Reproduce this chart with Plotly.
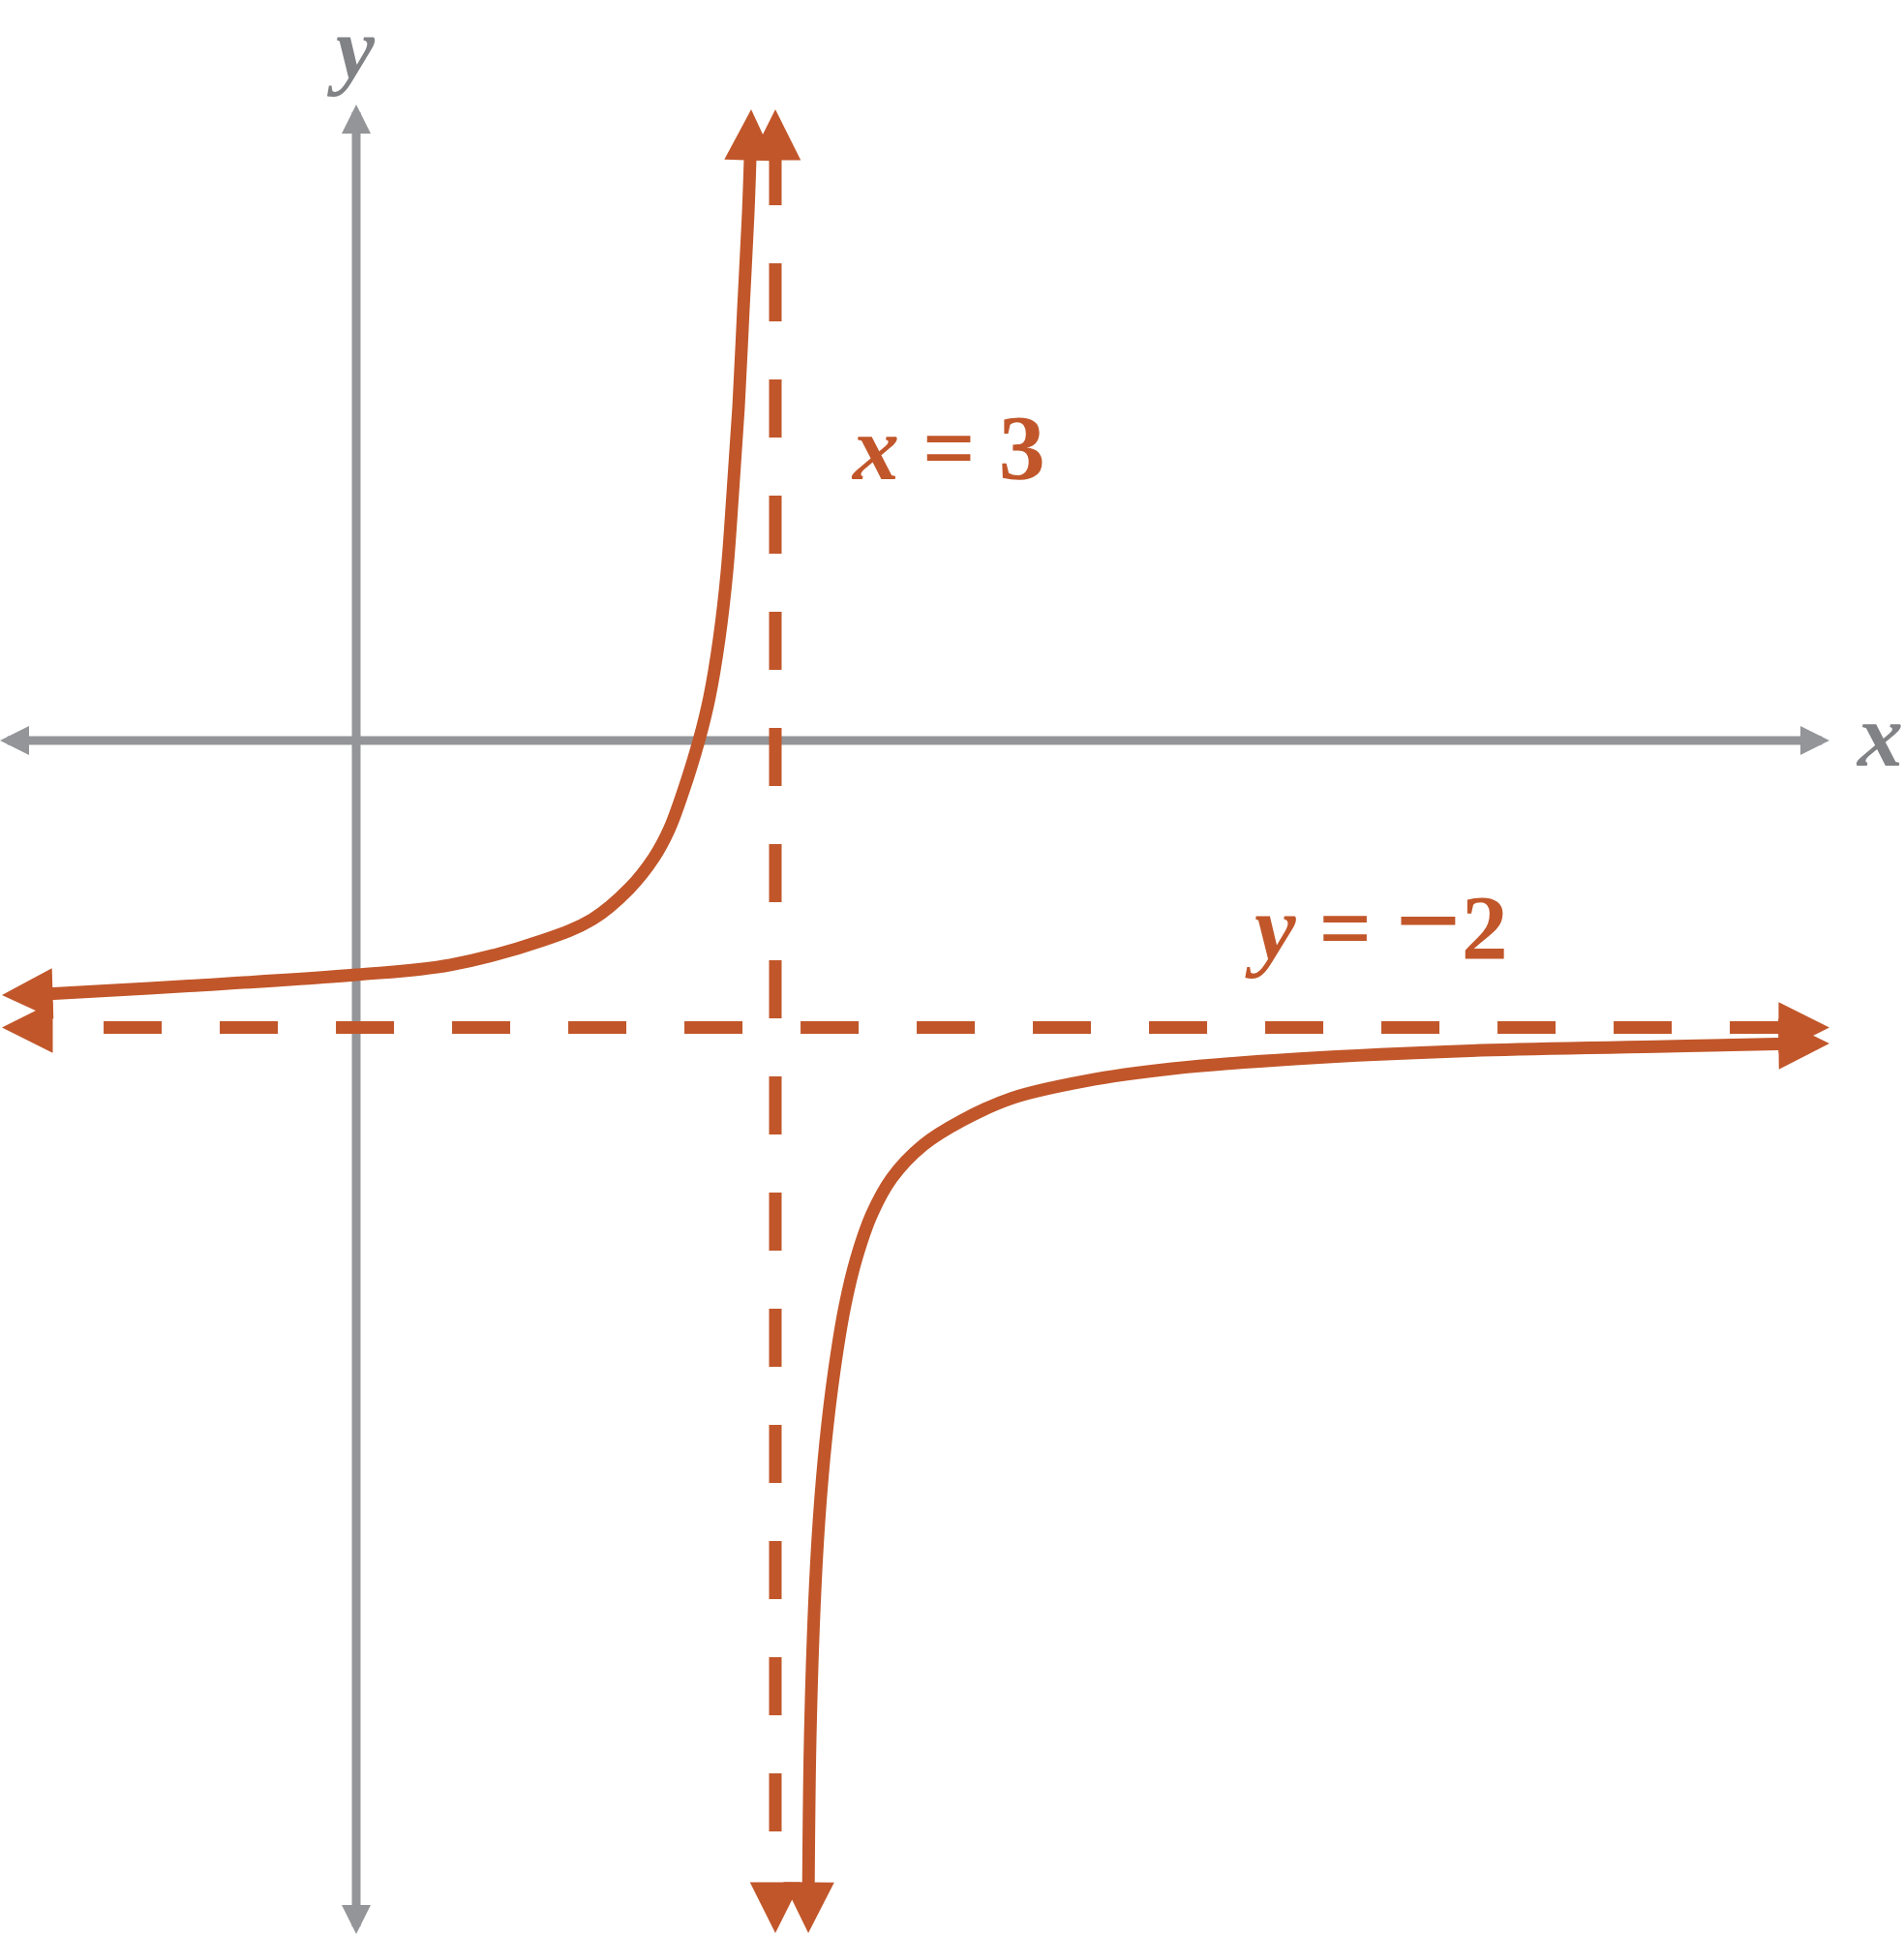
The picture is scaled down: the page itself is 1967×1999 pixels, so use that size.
import math
import plotly.graph_objects as go

W, H = 1967, 1999

# ---- view window (data units) ----
X_RANGE = [-2.5497, 11.0788]
Y_RANGE = [-8.3238, 5.1602]
KX = W / (X_RANGE[1] - X_RANGE[0])   # px per x unit
KY = H / (Y_RANGE[1] - Y_RANGE[0])   # px per y unit

GREY = "#939598"
GREY_TEXT = "#808285"
ORANGE = "#C1562A"
FONT = "Liberation Serif"

# ---- coordinate axes (tip to tip) ----
X_AXIS_X = [-2.5497, 10.545]
Y_AXIS_Y = [-8.317, 4.432]

# ---- asymptotes ----
ASYM_X = 3
ASYM_Y = -2
H_ASYM_DASH_X = [-1.808, 10.25]
H_ASYM_TIPS_X = [-2.536, 10.545]
V_ASYM_DASH_Y = [4.135, -7.61]
V_ASYM_TIPS_Y = [4.398, -8.310]

# ---- left branch of the curve ----
LEFT_X = [-2.307, -2.135, -1.199, 0.0, 0.674, 1.337, 1.69, 1.955, 2.131, 2.240, 2.335, 2.453, 2.529,
          2.598, 2.654, 2.695, 2.737, 2.771, 2.806, 2.823]
LEFT_Y = [-1.770, -1.762, -1.710, -1.633, -1.564, -1.392, -1.246, -1.031, -0.816, -0.620, -0.371, 0.0, 0.304,
          0.708, 1.180, 1.720, 2.327, 3.002, 3.676, 4.148]
LEFT_TIPS = [(-2.536, -1.774), (2.827, 4.398)]

# ---- right branch of the curve ----
RIGHT_X = [3.236, 3.249, 3.279, 3.313, 3.360, 3.423, 3.497, 3.580, 3.689, 3.834, 4.058, 4.337, 4.691,
           5.224, 5.841, 6.721, 8.051, 9.374, 10.171, 10.337]
RIGHT_Y = [-8.128, -6.981, -6.037, -5.430, -4.890, -4.384, -3.946, -3.609, -3.305, -3.049, -2.820, -2.648,
           -2.493, -2.372, -2.287, -2.219, -2.159, -2.132, -2.115, -2.113]
RIGHT_TIPS = [(3.236, -8.31), (10.545, -2.111)]

fig = go.Figure()


def trim(x0, y0, x1, y1, inset_px):
    """shorten a segment by inset_px (screen) at both ends"""
    dx, dy = (x1 - x0) * KX, (y1 - y0) * KY
    L = math.hypot(dx, dy)
    fx, fy = dx / L * inset_px / KX, dy / L * inset_px / KY
    return [x0 + fx, x1 - fx], [y0 + fy, y1 - fy]


# axes lines (below everything)
xs, ys = trim(X_AXIS_X[0], 0, X_AXIS_X[1], 0, 15)
fig.add_trace(go.Scatter(x=xs, y=ys, mode="lines", line=dict(color=GREY, width=9), hoverinfo="skip"))
xs, ys = trim(0, Y_AXIS_Y[0], 0, Y_AXIS_Y[1], 15)
fig.add_trace(go.Scatter(x=xs, y=ys, mode="lines", line=dict(color=GREY, width=9), hoverinfo="skip"))

# dashed asymptotes
fig.add_trace(go.Scatter(x=H_ASYM_DASH_X, y=[ASYM_Y, ASYM_Y], mode="lines",
                         line=dict(color=ORANGE, width=13, dash="60px,60px"), hoverinfo="skip"))
fig.add_trace(go.Scatter(x=[ASYM_X, ASYM_X], y=V_ASYM_DASH_Y, mode="lines",
                         line=dict(color=ORANGE, width=13, dash="60px,60px"), hoverinfo="skip"))

# curve branches
fig.add_trace(go.Scatter(x=LEFT_X, y=LEFT_Y, mode="lines",
                         line=dict(color=ORANGE, width=13, shape="spline", smoothing=1.0, simplify=False),
                         hoverinfo="skip"))
fig.add_trace(go.Scatter(x=RIGHT_X, y=RIGHT_Y, mode="lines",
                         line=dict(color=ORANGE, width=13, shape="spline", smoothing=1.0, simplify=False),
                         hoverinfo="skip"))


def head(tip, prev, color, width, scale, tail):
    sdx = (tip[0] - prev[0]) * KX
    sdy = -(tip[1] - prev[1]) * KY
    L = math.hypot(sdx, sdy)
    ux, uy = sdx / L, sdy / L
    fig.add_annotation(x=tip[0], y=tip[1], xref="x", yref="y", ax=-ux * tail, ay=-uy * tail,
                       text="", showarrow=True, arrowhead=2, arrowsize=scale / width,
                       arrowwidth=width, arrowcolor=color, standoff=0)


# axis heads
head((X_AXIS_X[0], 0), (X_AXIS_X[1], 0), GREY, 9, 6, 22)
head((X_AXIS_X[1], 0), (X_AXIS_X[0], 0), GREY, 9, 6, 22)
head((0, Y_AXIS_Y[0]), (0, Y_AXIS_Y[1]), GREY, 9, 6, 22)
head((0, Y_AXIS_Y[1]), (0, Y_AXIS_Y[0]), GREY, 9, 6, 22)

# asymptote heads
head((H_ASYM_TIPS_X[0], ASYM_Y), (H_ASYM_TIPS_X[1], ASYM_Y), ORANGE, 13, 10.5, 40)
head((H_ASYM_TIPS_X[1], ASYM_Y), (H_ASYM_TIPS_X[0], ASYM_Y), ORANGE, 13, 10.5, 40)
head((ASYM_X, V_ASYM_TIPS_Y[0]), (ASYM_X, V_ASYM_TIPS_Y[1]), ORANGE, 13, 10.5, 40)
head((ASYM_X, V_ASYM_TIPS_Y[1]), (ASYM_X, V_ASYM_TIPS_Y[0]), ORANGE, 13, 10.5, 40)

# curve heads
head(LEFT_TIPS[0], (LEFT_X[1], LEFT_Y[1]), ORANGE, 13, 10.5, 40)
head(LEFT_TIPS[1], (LEFT_X[-2], LEFT_Y[-2]), ORANGE, 13, 10.5, 40)
head(RIGHT_TIPS[0], (RIGHT_X[1], RIGHT_Y[1]), ORANGE, 13, 10.5, 40)
head(RIGHT_TIPS[1], (RIGHT_X[-2], RIGHT_Y[-2]), ORANGE, 13, 10.5, 40)


# labels
def label(text, px, py, color, size, xanchor, yanchor="middle"):
    fig.add_annotation(xref="paper", yref="paper", x=px / W, y=1 - py / H, text=text, showarrow=False,
                       xanchor=xanchor, yanchor=yanchor, borderpad=0,
                       font=dict(family=FONT, size=size, color=color))


label("<b><i>y</i></b>", 362, 0, GREY_TEXT, 90, "center", "top")
label("<b><i>x</i></b>", W, 759, GREY_TEXT, 94, "right")
label("<b><i>x</i> = 3</b>", 878, 462, ORANGE, 96, "left")
label("<b><i>y</i> = <span style='font-size:120px'>\u2212</span>2</b>", 1285, 950, ORANGE, 96, "left")

fig.update_layout(
    width=W, height=H, autosize=False,
    margin=dict(l=0, r=0, t=0, b=0, pad=0),
    paper_bgcolor="white", plot_bgcolor="white",
    showlegend=False,
    xaxis=dict(range=X_RANGE, visible=False, fixedrange=True),
    yaxis=dict(range=Y_RANGE, visible=False, fixedrange=True),
)

fig.write_html("out.html", config={"displayModeBar": False, "staticPlot": True},
               post_script="document.body.style.margin='0px';")
